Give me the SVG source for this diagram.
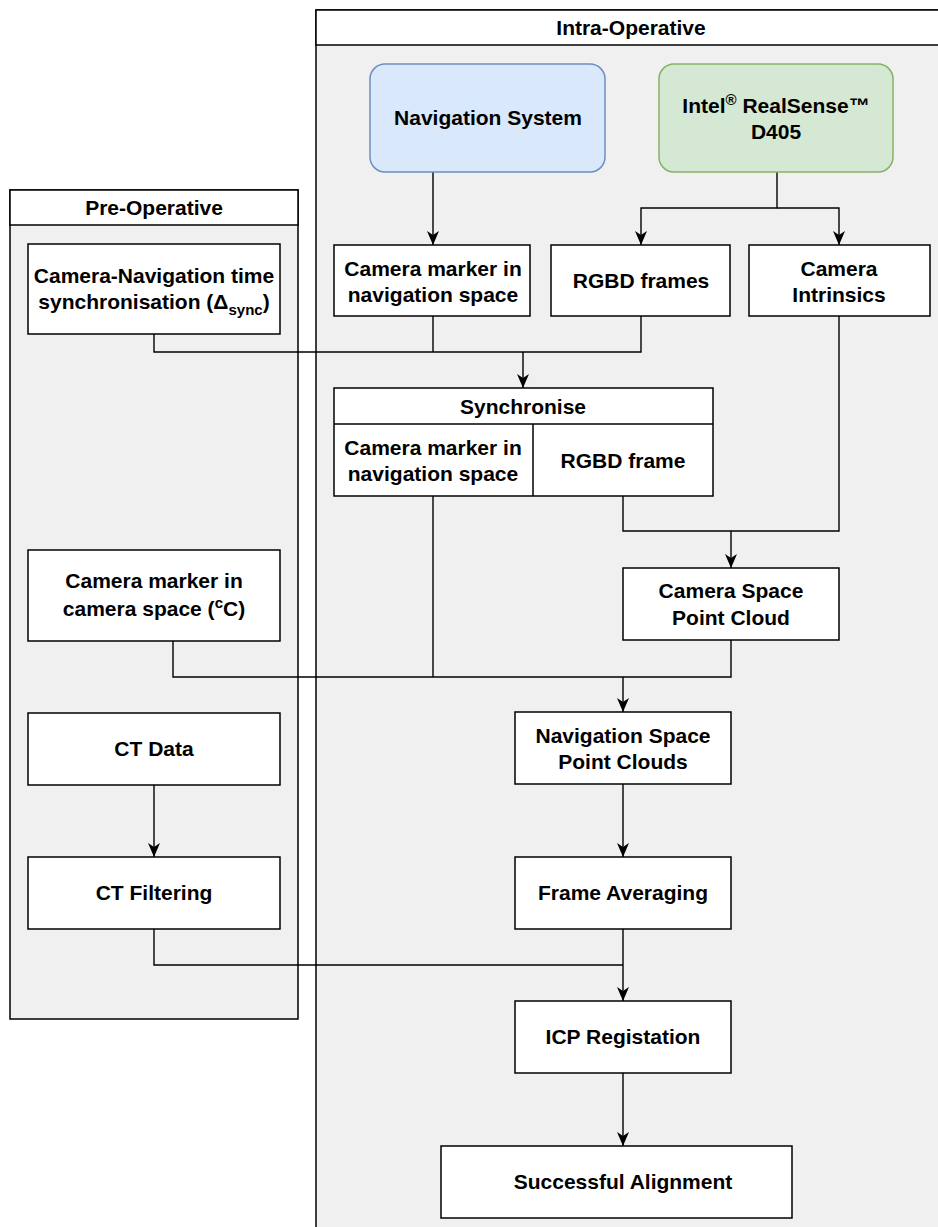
<svg xmlns="http://www.w3.org/2000/svg" width="938" height="1227" viewBox="0 0 938 1227">
<style>
text{font-family:"Liberation Sans",Arial,Helvetica,sans-serif;font-weight:bold;font-size:21px;fill:#000;text-anchor:middle}
.box{fill:#fff;stroke:#000;stroke-width:1.5}
.cont{fill:#f0f0f0;stroke:#000;stroke-width:1.5}
.hdr{fill:#fff;stroke:#000;stroke-width:1.5}
.c{fill:none;stroke:#000;stroke-width:1.4}
.sub{font-size:15px}
</style>
<defs>
<marker id="arr" viewBox="0 0 14 12" refX="14" refY="6" markerWidth="14" markerHeight="12" markerUnits="userSpaceOnUse" orient="auto">
<path d="M0,0 L14,6 L0,12 L4,6 Z" fill="#000"/>
</marker>
</defs>
<rect width="938" height="1227" fill="#fff"/>
<g id="intra-operative">
<rect class="cont" x="316" y="10" width="630" height="1240"/>
<rect class="hdr" x="316" y="10" width="630" height="35"/>
<text x="631" y="35">Intra-Operative</text>
</g>
<g id="pre-operative">
<rect class="cont" x="10" y="190" width="288" height="829"/>
<rect class="hdr" x="10" y="190" width="288" height="35"/>
<text x="154" y="215">Pre-Operative</text>
</g>
<g id="connectors">
<path class="c" d="M433,172 V245" marker-end="url(#arr)"/>
<path class="c" d="M777,172 V208 H641 V245" marker-end="url(#arr)"/>
<path class="c" d="M777,208 H839 V245" marker-end="url(#arr)"/>
<path class="c" d="M154,334 V352 H641 V316"/>
<path class="c" d="M433,316 V352"/>
<path class="c" d="M523,352 V388" marker-end="url(#arr)"/>
<path class="c" d="M433,496 V677"/>
<path class="c" d="M623,496 V531 H839 V316"/>
<path class="c" d="M731,531 V568" marker-end="url(#arr)"/>
<path class="c" d="M173,641 V677 H731 V640"/>
<path class="c" d="M623,677 V712" marker-end="url(#arr)"/>
<path class="c" d="M623,784 V857" marker-end="url(#arr)"/>
<path class="c" d="M154,785 V857" marker-end="url(#arr)"/>
<path class="c" d="M154,929 V965 H623"/>
<path class="c" d="M623,929 V1001" marker-end="url(#arr)"/>
<path class="c" d="M623,1073 V1146" marker-end="url(#arr)"/>
</g>
<g id="navigation-system">
<rect x="370" y="64" width="235" height="108" rx="15" fill="#dae8fc" stroke="#6c8ebf" stroke-width="1.5"/>
<text x="488" y="125">Navigation System</text>
</g>
<g id="realsense">
<rect x="659" y="64" width="234" height="108" rx="15" fill="#d5e8d4" stroke="#82b366" stroke-width="1.5"/>
<text x="776" y="113">Intel<tspan class="sub" dy="-8">®</tspan><tspan dy="8"> RealSense™</tspan></text>
<text x="776" y="139">D405</text>
</g>
<g id="camera-marker-nav">
<rect class="box" x="334" y="245" width="196" height="71"/>
<text x="433" y="276">Camera marker in</text>
<text x="433" y="302">navigation space</text>
</g>
<g id="rgbd-frames">
<rect class="box" x="551" y="245" width="179" height="71"/>
<text x="641" y="288">RGBD frames</text>
</g>
<g id="camera-intrinsics">
<rect class="box" x="749" y="245" width="181" height="71"/>
<text x="839" y="276">Camera</text>
<text x="839" y="302">Intrinsics</text>
</g>
<g id="time-sync">
<rect class="box" x="28" y="244" width="252" height="90"/>
<text x="154" y="283">Camera-Navigation time</text>
<text x="154" y="309">synchronisation (Δ<tspan class="sub" dy="6">sync</tspan><tspan dy="-6">)</tspan></text>
</g>
<g id="synchronise">
<rect class="box" x="334" y="388" width="379" height="108"/>
<line x1="334" y1="424" x2="713" y2="424" stroke="#000" stroke-width="1.5"/>
<line x1="533" y1="424" x2="533" y2="496" stroke="#000" stroke-width="1.5"/>
<text x="523" y="414">Synchronise</text>
<text x="433" y="455">Camera marker in</text>
<text x="433" y="481">navigation space</text>
<text x="623" y="468">RGBD frame</text>
</g>
<g id="camera-marker-cam">
<rect class="box" x="28" y="550" width="252" height="91"/>
<text x="154" y="588">Camera marker in</text>
<text x="154" y="616">camera space (<tspan class="sub" dy="-8">c</tspan><tspan dy="8">C)</tspan></text>
</g>
<g id="camera-space-pc">
<rect class="box" x="623" y="568" width="216" height="72"/>
<text x="731" y="598">Camera Space</text>
<text x="731" y="625">Point Cloud</text>
</g>
<g id="nav-space-pc">
<rect class="box" x="515" y="712" width="216" height="72"/>
<text x="623" y="743">Navigation Space</text>
<text x="623" y="769">Point Clouds</text>
</g>
<g id="ct-data">
<rect class="box" x="28" y="713" width="252" height="72"/>
<text x="154" y="756">CT Data</text>
</g>
<g id="ct-filtering">
<rect class="box" x="28" y="857" width="252" height="72"/>
<text x="154" y="900">CT Filtering</text>
</g>
<g id="frame-averaging">
<rect class="box" x="515" y="857" width="216" height="72"/>
<text x="623" y="900">Frame Averaging</text>
</g>
<g id="icp-registration">
<rect class="box" x="515" y="1001" width="216" height="72"/>
<text x="623" y="1044">ICP Registation</text>
</g>
<g id="successful-alignment">
<rect class="box" x="441" y="1146" width="351" height="72"/>
<text x="623" y="1189">Successful Alignment</text>
</g>
</svg>
